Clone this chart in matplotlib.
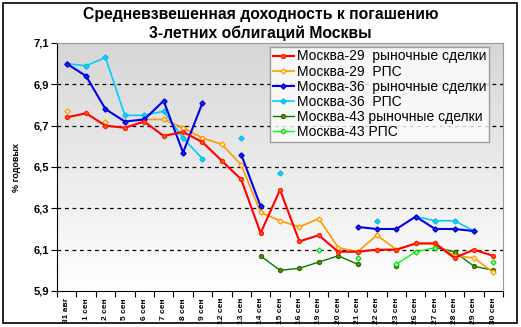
import numpy as np
import matplotlib
matplotlib.use("Agg")
import matplotlib.pyplot as plt
from matplotlib.patches import Rectangle

plt.rcParams['font.family'] = ['Liberation Sans', 'DejaVu Sans']

nan = np.nan
dates = ["31 авг", "1 сен", "2 сен", "5 сен", "6 сен", "7 сен", "8 сен", "9 сен",
         "12 сен", "13 сен", "14 сен", "15 сен", "16 сен", "19 сен", "20 сен",
         "21 сен", "22 сен", "23 сен", "26 сен", "27 сен", "28 сен", "29 сен", "30 сен"]

m29_market = [6.74, 6.76, 6.70, 6.69, 6.72, 6.65, 6.67, 6.62, 6.53, 6.44, 6.18, 6.39,
              6.14, 6.17, 6.09, 6.09, 6.10, 6.10, 6.13, 6.13, 6.06, 6.10, 6.07]
m29_rps = [6.77, nan, 6.72, nan, 6.73, 6.73, 6.69, 6.64, 6.61, 6.51, 6.28, 6.24,
           6.21, 6.25, 6.11, 6.09, 6.17, 6.10, 6.13, 6.13, 6.07, 6.06, 5.99]
m36_market = [7.00, 6.94, 6.78, 6.72, 6.73, 6.82, 6.57, 6.81, nan, 6.56, 6.31, nan,
              nan, nan, nan, 6.21, 6.20, 6.20, 6.26, 6.20, 6.20, 6.19, nan]
m36_rps = [7.00, 6.99, 7.03, 6.75, 6.75, 6.77, 6.64, 6.54, nan, 6.64, nan, 6.47,
           nan, nan, nan, nan, 6.24, nan, 6.26, 6.24, 6.24, 6.19, nan]
m43_market = [nan] * 10 + [6.07, 6.00, 6.01, 6.04, 6.07, 6.03, nan, 6.02, nan,
                           6.11, 6.09, 6.02, 6.00]
m43_rps = [nan] * 13 + [6.10, nan, 6.06, nan, 6.03, 6.09, 6.11, nan, nan, 6.04]

labels = ["Москва-29  рыночные сделки", "Москва-29  РПС", "Москва-36  рыночные сделки",
          "Москва-36  РПС", "Москва-43 рыночные сделки", "Москва-43 РПС"]

fig = plt.figure(figsize=(5.21, 3.27), dpi=100)
ax = fig.add_axes([57 / 521, 1 - 291 / 327, 446 / 521, 248 / 327])

x = np.arange(len(dates))

# grey gradient plot background
grad = np.linspace(0, 1, 256).reshape(-1, 1)
ax.imshow(grad, cmap=matplotlib.colors.LinearSegmentedColormap.from_list(
    "bg", ["#ffffff", "#d6d6d6"]), aspect="auto",
    extent=[-0.5, len(dates) - 0.5, 7.1, 5.9], zorder=0)

for yv in [6.1, 6.3, 6.5, 6.7, 6.9]:
    ax.axhline(yv, color="black", ls=(0, (3, 3)), lw=0.9, zorder=1)

ax.plot(x, m29_market, color="#ff0000", lw=1.5, marker="o", ms=2.8,
        mfc="#ff6020", mec="#ff2000", label=labels[0], zorder=5)
ax.plot(x, m29_rps, color="#ff9900", lw=1.2, marker="D", ms=2.6,
        mfc="#ffffcc", mec="#ff9900", mew=0.9, label=labels[1], zorder=4)
ax.plot(x, m36_market, color="#0000ee", lw=1.5, marker="D", ms=2.6,
        mfc="#2222ff", mec="#0000cc", label=labels[2], zorder=4)
ax.plot(x, m36_rps, color="#00ccff", lw=1.2, marker="D", ms=2.6,
        mfc="#33ccff", mec="#00bbee", label=labels[3], zorder=3)
ax.plot(x, m43_market, color="#008000", lw=1.0, marker="o", ms=2.8,
        mfc="#669900", mec="#336600", label=labels[4], zorder=3)
ax.plot(x, m43_rps, color="#00ff00", lw=1.0, marker="D", ms=2.6,
        mfc="#ccffcc", mec="#00dd00", mew=0.9, label=labels[5], zorder=3)

ax.set_xlim(-0.5, len(dates) - 0.5)
ax.set_ylim(5.9, 7.1)
ax.set_yticks([5.9, 6.1, 6.3, 6.5, 6.7, 6.9, 7.1])
ax.set_yticklabels(["5,9", "6,1", "6,3", "6,5", "6,7", "6,9", "7,1"],
                   fontsize=8, fontweight="bold")
ax.set_xticks(np.arange(len(dates) + 1) - 0.5)
ax.set_xticklabels([])
ax.set_xticks(x, minor=True)
ax.set_xticklabels(dates, minor=True, rotation=90, fontsize=6, fontweight="bold")
ax.tick_params(axis="x", which="major", length=4, direction="out")
ax.tick_params(axis="x", which="minor", length=0, pad=5)
ax.tick_params(axis="y", length=4, direction="out", pad=2)

for side in ["top", "right"]:
    ax.spines[side].set_color("#999999")
ax.spines["left"].set_color("black")
ax.spines["bottom"].set_color("black")

ax.set_ylabel("% годовых", fontsize=6.5, fontweight="bold", labelpad=9)

leg = ax.legend(loc="upper left", bbox_to_anchor=(213 / 446, 0.985), fontsize=10,
                frameon=True, fancybox=False, edgecolor="#888888",
                handlelength=1.5, handletextpad=0.25, borderpad=0.2,
                labelspacing=0.08, borderaxespad=0)
leg.get_frame().set_linewidth(1.0)
leg.set_zorder(10)

fig.text(0.5, 1 - 15 / 327, "Средневзвешенная доходность к погашению",
         ha="center", va="center", fontsize=11.3, fontweight="bold")
fig.text(0.5, 1 - 33 / 327, "3-летних облигаций Москвы",
         ha="center", va="center", fontsize=11.3, fontweight="bold")

fig.patches.append(Rectangle((3 / 521, 4 / 327), 514 / 521, 320 / 327,
                             transform=fig.transFigure, fill=False,
                             edgecolor="black", lw=1.2))

fig.savefig("out.png", dpi=100)
